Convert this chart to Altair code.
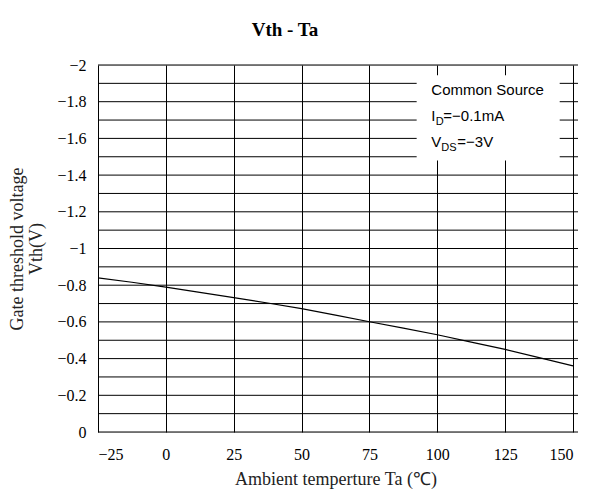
import altair as alt
import pandas as pd

# Curve
ta = [-25, -12.5, 0, 12.5, 25, 37.5, 50, 62.5, 75, 87.5, 100, 112.5, 125, 137.5, 150]
vth = [-0.84, -0.816, -0.79, -0.761, -0.732, -0.703, -0.672, -0.637, -0.601, -0.566,
       -0.53, -0.49, -0.45, -0.405, -0.36]

x_ticks = [-25, 0, 25, 50, 75, 100, 125, 150]
y_ticks = [-2, -1.8, -1.6, -1.4, -1.2, -1, -0.8, -0.6, -0.4, -0.2, 0]
y_grid = [-2, -1.9, -1.8, -1.7, -1.6, -1.5, -1.4, -1.3, -1.2, -1.1, -1,
          -0.9, -0.8, -0.7, -0.6, -0.5, -0.4, -0.3, -0.2, -0.1, 0]

curve = pd.DataFrame({"Ta": ta, "Vth": vth})
grid = pd.DataFrame({"Vth": y_grid})
one = pd.DataFrame({"k": [0]})

W, H = 475, 367
SERIF = "Liberation Serif"
SANS = "Liberation Sans"
MINUS = "replace(datum.label, '-', '\u2212')"

xscale = alt.Scale(domain=[-25, 150], nice=False, zero=False)
yscale = alt.Scale(domain=[-2, 0], reverse=True, nice=False, zero=False)

xaxis = alt.Axis(values=x_ticks, title="Ambient temperture  Ta (℃)", grid=True,
                 ticks=False, domain=False, labelPadding=14, titlePadding=8,
                 labelFont=SERIF, labelFontSize=16, titleFont=SERIF,
                 titleFontSize=18, titleFontWeight="normal", labelColor="#000",
                 titleColor="#222", gridColor="#000", gridWidth=1, gridOpacity=1,
                 labelOverlap=False, labelExpr=MINUS)
yaxis = alt.Axis(values=y_ticks, format=".1~f",
                 title=["Gate threshold voltage", "Vth(V)"], grid=False,
                 ticks=False, domain=False, labelPadding=12, titlePadding=11,
                 labelFont=SERIF, labelFontSize=16, titleFont=SERIF,
                 titleFontSize=18, titleLineHeight=19, titleFontWeight="normal",
                 labelColor="#000", titleColor="#222", labelOverlap=False,
                 labelSeparation=0, labelExpr=MINUS)


def X(**kw):
    return alt.X(scale=xscale, axis=xaxis, **kw)


def Y(**kw):
    return alt.Y(scale=yscale, axis=yaxis, **kw)


hlines = alt.Chart(grid).mark_rule(color="#000", strokeWidth=1).encode(
    y=Y(field="Vth", type="quantitative"),
    x=alt.value(0), x2=alt.value(W + 5),
)

box = alt.Chart(one).mark_rect(color="white").encode(
    x=X(datum=92.4), x2=alt.X2(datum=145.1),
    y=Y(datum=-1.944), y2=alt.Y2(datum=-1.48),
)

line = alt.Chart(curve).mark_line(color="#000", strokeWidth=1.2).encode(
    x=X(field="Ta", type="quantitative"),
    y=Y(field="Vth", type="quantitative"),
)


def txt(s, xv, yv, size=15, dx=0, dy=0):
    return alt.Chart(one).mark_text(
        text=s, font=SANS, fontSize=size, fontWeight="normal", align="left",
        baseline="alphabetic", color="#000", dx=dx, dy=dy,
    ).encode(x=X(datum=xv), y=Y(datum=yv))


tx = 97.8
notes = [
    txt("Common Source", tx, -1.835),
    txt("I", tx, -1.694),
    txt("D", tx, -1.694, size=11, dx=4.5, dy=4),
    txt("=−0.1mA", tx, -1.694, dx=12),
    txt("V", tx, -1.551),
    txt("DS", tx, -1.551, size=11, dx=10, dy=4),
    txt("=−3V", tx, -1.551, dx=26),
]

title = alt.Chart(one).mark_text(
    text="Vth - Ta", font=SERIF, fontSize=19, fontWeight="bold", align="center",
    baseline="alphabetic", color="#000",
).encode(x=alt.value(187), y=alt.value(-29))

chart = alt.layer(hlines, box, line, *notes, title).properties(
    width=W, height=H,
    autosize=alt.AutoSizeParams(type="none"),
    padding={"left": 90, "top": 57, "right": 12, "bottom": 60},
).configure_view(stroke="#000", strokeWidth=1.5).configure_axis(
    labelOverlap=False
).configure(background="white")

chart.save("out.html", embed_options={"renderer": "svg", "actions": False})
